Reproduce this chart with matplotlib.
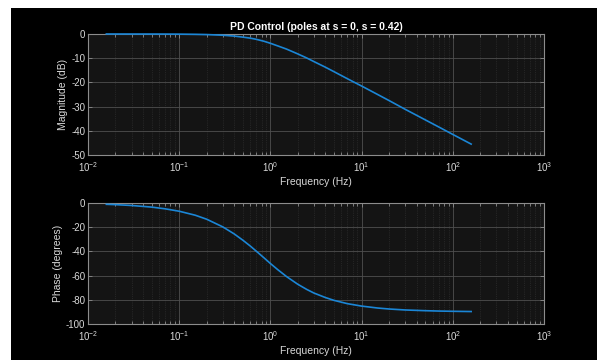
import matplotlib
matplotlib.use("Agg")
import matplotlib.pyplot as plt
from matplotlib.patches import Rectangle
from matplotlib.ticker import LogLocator, FixedLocator, NullFormatter

plt.rcParams['font.family'] = ['Liberation Sans', 'DejaVu Sans']
plt.rcParams['mathtext.fontset'] = 'custom'
plt.rcParams['mathtext.rm'] = 'Liberation Sans'
plt.rcParams['axes.unicode_minus'] = False

freq_hz = [0.0159, 0.02, 0.03, 0.05, 0.07, 0.1, 0.15, 0.2, 0.3, 0.4, 0.5, 0.6, 0.7,
           0.85, 1.0, 1.2, 1.5, 2.0, 2.5, 3.0, 4.0, 5.0, 7.0, 10.0, 15.0, 20.0,
           30.0, 50.0, 70.0, 100.0, 159.0]
mag_db = [0.0, -0.002, -0.01, -0.015, -0.03, -0.06, -0.14, -0.24, -0.51, -0.86, -1.3,
          -1.7, -2.2, -3.0, -3.84, -4.9, -6.22, -8.24, -9.9, -11.39, -13.7, -15.6,
          -18.5, -21.5, -25.0, -27.5, -31.1, -35.5, -38.4, -41.5, -45.5]
phase_deg = [-1.08, -1.36, -2.05, -3.4, -4.8, -6.8, -10.1, -13.4, -19.7, -25.5, -30.8,
             -35.5, -39.8, -45.3, -50.0, -55.0, -60.75, -67.2, -71.4, -74.4, -78.1,
             -80.5, -83.2, -85.2, -86.8, -87.6, -88.4, -89.0, -89.3, -89.5, -89.7]

title = "PD Control (poles at s = 0, s = 0.42)"
xlabel = "Frequency (Hz)"
ylabels = ["Magnitude (dB)", "Phase (degrees)"]
yticks_mag = [0, -10, -20, -30, -40, -50]
yticks_phase = [0, -20, -40, -60, -80, -100]

fig = plt.figure(figsize=(5.97, 3.6), dpi=100, facecolor='white')
fig.patches.append(Rectangle((11/597, 0), 1 - 11/597, 1 - 8/360,
                             transform=fig.transFigure, facecolor='black',
                             edgecolor='none', zorder=-10))

face = '#141414'
edge = '#8c8c8c'
txt = '#d9d9d9'
line_col = '#1b86d6'

ax1 = fig.add_axes([88/597, 1 - 155/360, 456/597, 121/360])
ax2 = fig.add_axes([88/597, 1 - 324/360, 456/597, 121/360])

for ax, y, yt, yl in [(ax1, mag_db, yticks_mag, ylabels[0]),
                      (ax2, phase_deg, yticks_phase, ylabels[1])]:
    ax.set_facecolor(face)
    ax.semilogx(freq_hz, y, color=line_col, lw=1.2, clip_on=False, zorder=3)
    ax.set_xlim(1e-2, 1e3)
    ax.set_ylim(min(yt), max(yt))
    ax.yaxis.set_major_locator(FixedLocator(yt))
    ax.xaxis.set_major_locator(LogLocator(base=10, numticks=10))
    ax.xaxis.set_minor_locator(LogLocator(base=10, subs=range(2, 10), numticks=20))
    ax.xaxis.set_minor_formatter(NullFormatter())
    for s in ax.spines.values():
        s.set_color(edge)
        s.set_linewidth(0.8)
    ax.tick_params(which='both', direction='in', top=True, right=True,
                   colors=edge, labelcolor=txt, labelsize=7, width=0.6)
    ax.tick_params(which='major', length=3)
    ax.tick_params(axis='y', which='major', pad=2)
    ax.tick_params(axis='x', which='major', pad=4)
    ax.tick_params(which='minor', length=2)
    ax.grid(True, which='major', color='#4f4f4f', lw=0.6, ls='-')
    ax.grid(True, which='minor', color='#363636', lw=0.5, ls=':')
    ax.set_axisbelow(True)
    ax.set_xlabel(xlabel, color=txt, fontsize=7.5, labelpad=2)
    ax.set_ylabel(yl, color=txt, fontsize=7.5, labelpad=2)

ax1.set_title(title, color='white', fontsize=7.5, fontweight='bold', pad=3)

fig.savefig('out.png', dpi=100, facecolor=fig.get_facecolor())
